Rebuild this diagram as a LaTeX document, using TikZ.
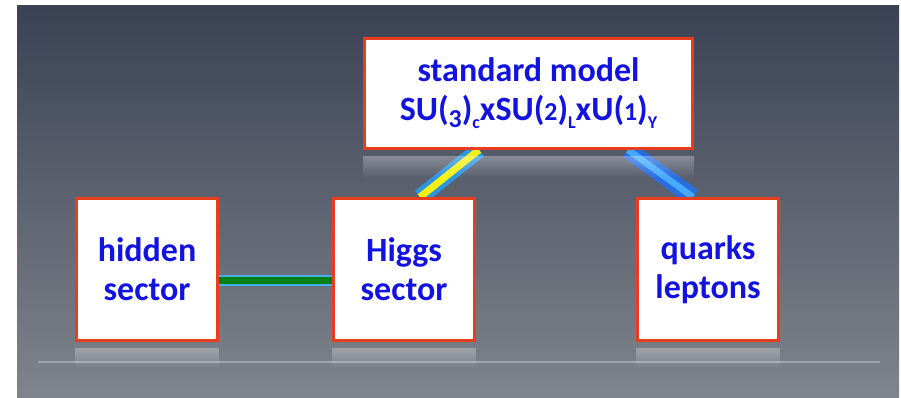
\documentclass[tikz,border=0pt]{standalone}
\usepackage{fontspec}
\usepackage{graphicx}
\setmainfont{Carlito}
\usetikzlibrary{fadings}
\tikzfading[name=reflfade, top color=transparent!70, bottom color=transparent!100]
\definecolor{bgtop}{RGB}{58,66,84}
\definecolor{bgmid}{RGB}{92,97,108}
\definecolor{bgbot}{RGB}{128,132,140}
\definecolor{boxred}{RGB}{232,62,30}
\definecolor{txtblue}{RGB}{18,18,225}
\definecolor{cblue}{RGB}{45,150,225}
\definecolor{cyel}{RGB}{245,240,20}
\definecolor{qblue}{RGB}{40,110,225}
\definecolor{qlight}{RGB}{70,170,255}
\definecolor{hgreen}{RGB}{0,128,20}
\definecolor{hblue}{RGB}{70,175,230}
\newcommand\mysub[1]{\raisebox{-0.24em}{\fontsize{18}{18}\selectfont #1}}
\newcommand\lowdig[1]{\scalebox{0.76}{#1}}
\newcommand\descdig[1]{\raisebox{-0.2em}{\scalebox{0.76}{#1}}}
\pgfdeclarelayer{back}
\pgfdeclarelayer{conn}
\pgfsetlayers{back,conn,main}
\begin{document}
\begin{tikzpicture}[x=1pt,y=-1pt,
  box/.style={draw=boxred, line width=2.8pt, fill=white, text=txtblue,
    font=\bfseries\fontsize{34}{39}\selectfont, align=center, inner sep=0pt},
  smallbox/.style={box, minimum width=141pt, minimum height=142pt},
  refl/.style={fill=white, path fading=reflfade}
]
\useasboundingbox (0,0) rectangle (901,398);
\begin{pgfonlayer}{back}
\fill[white] (0,0) rectangle (901,398);
\shade[top color=bgtop, middle color=bgmid, bottom color=bgbot] (17,6) rectangle (899,398);
\draw[white, opacity=0.3, line width=1.2pt] (38,362) -- (880,362);
\end{pgfonlayer}

\node[box, minimum width=328pt, minimum height=110pt] (sm) at (528.5,93.5)
  {standard model\\SU(\descdig{3})\mysub{c}xSU(\lowdig{2})\mysub{L}xU(\lowdig{1})\mysub{Y}};
\node[smallbox] (hid) at (147,269.5) {hidden\\sector};
\node[smallbox] (hig) at (404,269.5) {Higgs\\sector};
\node[smallbox] (ql) at (708,269.5) {quarks\\leptons};

\begin{pgfonlayer}{conn}
\draw[line width=16pt, cblue] ([xshift=-49.5pt]sm.south) -- ([xshift=16pt]hig.north);
\draw[line width=7pt, cyel] ([xshift=-49.5pt]sm.south) -- ([xshift=16pt]hig.north);
\draw[line width=17pt, qblue] ([xshift=99.5pt]sm.south) -- ([xshift=-15pt]ql.north);
\draw[line width=6.5pt, qlight] ([xshift=99.5pt]sm.south) -- ([xshift=-15pt]ql.north);
\draw[line width=11pt, hblue] ([yshift=-10.5pt]hid.east) -- ([yshift=-10.5pt]hig.west);
\draw[line width=7pt, hgreen] ([yshift=-10.5pt]hid.east) -- ([yshift=-10.5pt]hig.west);
\end{pgfonlayer}

\foreach \b in {hid,hig,ql}{
  \fill[refl] ([yshift=-6pt]\b.south west) rectangle ([yshift=-26pt]\b.south east);
}
\fill[refl] ([yshift=-6pt]sm.south west) rectangle ([yshift=-28pt]sm.south east);
\end{tikzpicture}
\end{document}
